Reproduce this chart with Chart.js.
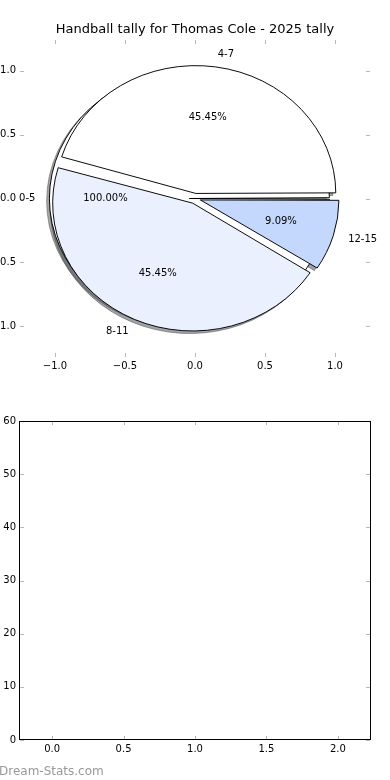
<!DOCTYPE html>
<html><head><meta charset="utf-8">
<script src="https://cdn.jsdelivr.net/npm/chart.js@4.4.1/dist/chart.umd.min.js"></script>
<style>
html,body{margin:0;padding:0;background:#fff;}
#wrap{position:relative;width:390px;height:780px;overflow:hidden;background:#fff;}
canvas{position:absolute;left:0;}
#wm{position:absolute;left:-1px;top:765px;font-family:'DejaVu Sans',sans-serif;font-size:12px;line-height:12px;color:#999;white-space:nowrap;}
</style></head>
<body><div id="wrap">
<canvas id="axTop" width="390" height="380" style="top:0"></canvas>
<canvas id="shZero" width="390" height="380" style="top:0"></canvas>
<canvas id="shMain" width="390" height="380" style="top:0"></canvas>
<canvas id="pieZero" width="390" height="380" style="top:0"></canvas>
<canvas id="pieMain" width="390" height="380" style="top:0"></canvas>
<canvas id="axBottom" width="390" height="400" style="top:380px"></canvas>
<div id="wm">Dream-Stats.com</div>
</div>
<script>
// ---- data ----
const chartTitle = 'Handball tally for Thomas Cole - 2025 tally';
const pieLabels = ['4-7', '8-11', '12-15'];
const pieValues = [5, 5, 1];
const pieColors = ['#ffffff', '#eaf0fd', '#c4d7fc'];
const zeroLabels = ['0-5'];
const zeroValues = [1];
const zeroColors = ['#ffffff'];
const pieXTicks = [-1, -0.5, 0, 0.5, 1];
const pieYTicks = [-1, -0.5, 0, 0.5, 1];
const lowerXTicks = [0, 0.5, 1, 1.5, 2];
const lowerYTicks = [0, 10, 20, 30, 40, 50, 60];

// ---- style ----
const EXPLODE = 0.04, LABEL_DIST = 1.1, PCT_DIST = 0.6, SHADOW = -0.02;
Chart.defaults.font.family = "'DejaVu Sans', sans-serif";
Chart.defaults.font.size = 10;
Chart.defaults.color = '#000';

const fmt1 = v => (v < 0 ? '\u2212' : '') + Math.abs(v).toFixed(1);

function innerTicks(color, len, frame) {
  return { id: 'innerTicks', afterDraw(chart) {
    const { ctx, chartArea: a, scales } = chart;
    ctx.save();
    ctx.strokeStyle = color; ctx.lineWidth = 1;
    ctx.beginPath();
    scales.x.ticks.forEach(t => {
      const p = Math.round(scales.x.getPixelForValue(t.value)) + 0.5;
      ctx.moveTo(p, a.top); ctx.lineTo(p, a.top + len);
      ctx.moveTo(p, a.bottom); ctx.lineTo(p, a.bottom - len);
    });
    scales.y.ticks.forEach(t => {
      const p = Math.round(scales.y.getPixelForValue(t.value)) + 0.5;
      ctx.moveTo(a.left, p); ctx.lineTo(a.left + len, p);
      ctx.moveTo(a.right, p); ctx.lineTo(a.right - len, p);
    });
    ctx.stroke();
    if (frame) {
      ctx.strokeStyle = '#000'; ctx.lineWidth = 1;
      ctx.strokeRect(a.left - 0.5, a.top + 0.5, a.right - a.left + 1, a.bottom - a.top - 1);
    }
    ctx.restore();
  }};
}

function axisOpts(min, max, ticksArr, fmt, fit, pad) {
  return {
    type: 'linear', min, max,
    grid: { display: false, drawTicks: false }, border: { display: false },
    afterBuildTicks: s => { s.ticks = ticksArr.map(v => ({ value: v })); },
    afterFit: fit,
    ticks: { padding: pad, autoSkip: false, maxRotation: 0, callback: fmt }
  };
}
const spacerAxis = {
  position: 'right', display: true,
  grid: { display: false, drawTicks: false }, border: { display: false },
  ticks: { display: false }, afterFit: s => { s.width = 20; }
};

// ---- top axes (pie frame) ----
const axTop = new Chart(document.getElementById('axTop'), {
  type: 'scatter',
  data: { datasets: [] },
  options: {
    responsive: false, animation: false, events: [],
    layout: { padding: 0 },
    plugins: {
      legend: { display: false }, tooltip: { enabled: false },
      title: { display: true, text: chartTitle, color: '#000', font: { size: 13, weight: 'normal' }, padding: { top: 22.2, bottom: 2.2 } }
    },
    scales: {
      x: axisOpts(-1.25, 1.25, pieXTicks, fmt1, s => { s.height = 23; }, 3),
      y: axisOpts(-1.24, 1.24, pieYTicks, fmt1, s => { s.width = 20; }, 4),
      yRight: spacerAxis
    }
  },
  plugins: [innerTicks('#b8b8b8', 4, false)]
});

const sx = axTop.scales.x, sy = axTop.scales.y;
const X0 = sx.getPixelForValue(0), Y0 = sy.getPixelForValue(0);
const R = sx.getPixelForValue(1) - X0;
const K = (Y0 - sy.getPixelForValue(1)) / R;
const T = EXPLODE * R;                 // explode translation (px)

const ellipse = { id: 'ellipse',
  beforeDatasetsDraw(chart) {
    const a = chart.chartArea, c = chart.ctx;
    const cx = (a.left + a.right) / 2, cy = (a.top + a.bottom) / 2;
    c.save(); c.translate(cx, cy); c.scale(1, K); c.translate(-cx, -cy);
  },
  afterDatasetsDraw(chart) { chart.ctx.restore(); }
};

function shade(hex) {
  const n = parseInt(hex.slice(1), 16);
  const r = Math.round(((n >> 16) & 255) * 0.3), g = Math.round(((n >> 8) & 255) * 0.3), b = Math.round((n & 255) * 0.3);
  return `rgba(${r},${g},${b},0.5)`;
}

function pieChart(id, labels, values, colors, edges, cx, cy, extra) {
  const W = 390, H = 380;
  const pads = {
    left: Math.max(0, 2 * cx - W), right: Math.max(0, W - 2 * cx),
    top: Math.max(0, 2 * cy - H), bottom: Math.max(0, H - 2 * cy)
  };
  const total = values.reduce((a, b) => a + b, 0);
  const maxCirc = Math.min(Math.PI, 2 * Math.PI * Math.max(...values) / total);
  const fix = 1 - Math.sin(maxCirc);
  return new Chart(document.getElementById(id), {
    type: 'pie',
    data: { labels: labels.slice().reverse(), datasets: [{
      data: values.slice().reverse(),
      backgroundColor: colors.slice().reverse(),
      borderColor: edges.slice().reverse(),
      borderWidth: 1, offset: 4 * T, hoverOffset: 0,
      radius: R - fix * T, clip: false
    }]},
    options: {
      responsive: false, animation: false, events: [], rotation: 90,
      layout: { padding: pads },
      plugins: { legend: { display: false }, tooltip: { enabled: false } }
    },
    plugins: [ellipse].concat(extra || [])
  });
}

const SX = SHADOW * R, SY = -SHADOW * R * K;
pieChart('shZero', zeroLabels, zeroValues, zeroColors.map(shade), zeroColors.map(shade), X0 + SX, Y0 + SY);
pieChart('shMain', pieLabels, pieValues, pieColors.map(shade), pieColors.map(shade), X0 + SX, Y0 + SY);
const pieZero = pieChart('pieZero', zeroLabels, zeroValues, zeroColors, zeroColors.map(() => '#000'), X0, Y0);

function drawTexts(ctx, src) {
  const meta = src.getDatasetMeta(0);
  const vals = src.data.datasets[0].data;
  const total = vals.reduce((a, b) => a + b, 0);
  meta.data.forEach((arc, i) => {
    const h = (arc.startAngle + arc.endAngle) / 2;
    const ox = arc.x + Math.cos(h) * T, oy = arc.y + Math.sin(h) * T;
    const at = d => [ox + Math.cos(h) * d * R, arc.y + K * (oy - arc.y + Math.sin(h) * d * R)];
    const [lx, ly] = at(LABEL_DIST);
    ctx.textAlign = lx > X0 ? 'left' : 'right';
    ctx.fillText(src.data.labels[i], lx, ly);
    const [px, py] = at(PCT_DIST);
    ctx.textAlign = 'center';
    ctx.fillText((vals[i] / total * 100).toFixed(2) + '%', px, py);
  });
}

const textPlugin = { id: 'pieTexts', afterDraw(chart) {
  const c = chart.ctx;
  c.save();
  c.font = "10px 'DejaVu Sans', sans-serif";
  c.fillStyle = '#000'; c.textBaseline = 'middle';
  drawTexts(c, pieZero);
  drawTexts(c, chart);
  c.restore();
}};
pieChart('pieMain', pieLabels, pieValues, pieColors, pieColors.map(() => '#000'), X0, Y0, [textPlugin]);

// ---- bottom empty axes ----
new Chart(document.getElementById('axBottom'), {
  type: 'scatter',
  data: { datasets: [] },
  options: {
    responsive: false, animation: false, events: [],
    layout: { padding: { left: 0, right: 20, top: 41, bottom: 0 } },
    plugins: { legend: { display: false }, tooltip: { enabled: false } },
    scales: {
      x: axisOpts(-0.225, 2.225, lowerXTicks, fmt1, s => { s.height = 40; }, 3),
      y: axisOpts(0, 60, lowerYTicks, v => String(v), s => { s.width = 20; }, 4)
    }
  },
  plugins: [innerTicks('#b8b8b8', 4, true)]
});
</script>
</body></html>
